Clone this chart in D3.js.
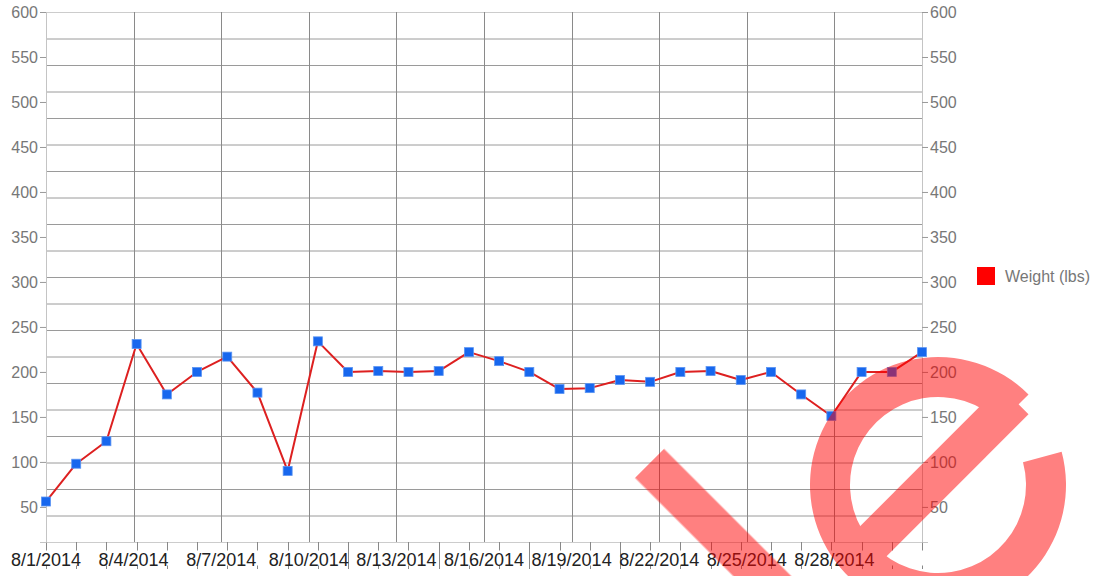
<!DOCTYPE html>
<html>
<head>
<meta charset="utf-8">
<script src="https://cdn.jsdelivr.net/npm/d3@7"></script>
<style>
body { margin: 0; background: #fff; }
text { font-family: "Liberation Sans", Arial, sans-serif; }
</style>
</head>
<body>
<div id="chart"></div>
<script>
// weigh-in times (one entry a day, clock drifting a little later each day)
var dates = [
  "2014-08-01 00:00", "2014-08-02 00:50", "2014-08-03 01:39", "2014-08-04 02:29",
  "2014-08-05 03:19", "2014-08-06 04:08", "2014-08-07 04:58", "2014-08-08 05:48",
  "2014-08-09 06:37", "2014-08-10 07:27", "2014-08-11 08:17", "2014-08-12 09:06",
  "2014-08-13 09:56", "2014-08-14 10:46", "2014-08-15 11:35", "2014-08-16 12:25",
  "2014-08-17 13:15", "2014-08-18 14:04", "2014-08-19 14:54", "2014-08-20 15:44",
  "2014-08-21 16:33", "2014-08-22 17:23", "2014-08-23 18:13", "2014-08-24 19:02",
  "2014-08-25 19:52", "2014-08-26 20:42", "2014-08-27 21:31", "2014-08-28 22:21",
  "2014-08-29 23:11", "2014-08-31 00:00"
];
var weights = [
  56, 98, 123, 231, 175, 200, 217, 177, 90, 234,
  200, 201, 200, 201, 222, 212, 200, 181, 182, 191,
  189, 200, 201, 191, 200, 175, 151, 200, 200, 222
];
var yTicks = [50, 100, 150, 200, 250, 300, 350, 400, 450, 500, 550, 600];
var seriesName = "Weight (lbs)";
var xStart = "2014-08-01 00:00", xEnd = "2014-08-31 00:00";
var yMin = 11, yMax = 600;

// set the dimensions and margins of the graph
var margin = { top: 12, left: 46 },
  width = 876,
  height = 530;

var parse = d3.timeParse("%Y-%m-%d %H:%M");
var fmt = d3.timeFormat("%-m/%-d/%Y");
var data = dates.map(function (d, i) { return { date: parse(d), value: weights[i] }; });

var x = d3.scaleTime().domain([parse(xStart), parse(xEnd)]).range([0, width]);
var y = d3.scaleLinear().domain([yMin, yMax]).range([height, 0]);
// the horizontal grid splits the plot into 20 even bands
var gridY = d3.scaleLinear().domain([0, 20]).range([height, 0]);

var svg = d3.select("#chart").append("svg")
  .attr("width", 1101)
  .attr("height", 576);

var g = svg.append("g")
  .attr("transform", "translate(" + margin.left + "," + margin.top + ")");

// horizontal grid
g.selectAll(".hgrid")
  .data(gridY.ticks(20))
  .enter().append("line")
  .attr("x1", 0).attr("x2", width)
  .attr("y1", function (d) { return gridY(d) + 0.5; })
  .attr("y2", function (d) { return gridY(d) + 0.5; })
  .attr("stroke", function (d) { return (d == 0 || d == 20) ? "#cccccc" : "#9a9a9a"; })
  .attr("stroke-width", 1);

// vertical grid every 3 days
var majors = x.ticks(d3.timeDay.every(3));
g.selectAll(".vgrid")
  .data(majors)
  .enter().append("line")
  .attr("x1", function (d) { return Math.round(x(d)) + 0.5; })
  .attr("x2", function (d) { return Math.round(x(d)) + 0.5; })
  .attr("y1", 0).attr("y2", height)
  .attr("stroke", function (d, i) { return (i == 0 || i == majors.length - 1) ? "#c4c4c4" : "#8a8a8a"; })
  .attr("stroke-width", 1);

// small ticks under each point
g.selectAll(".ptick")
  .data(data)
  .enter().append("line")
  .attr("x1", function (d) { return Math.round(x(d.date)) + 0.5; })
  .attr("x2", function (d) { return Math.round(x(d.date)) + 0.5; })
  .attr("y1", height).attr("y2", height + 27)
  .attr("stroke", "#888")
  .attr("stroke-width", 1);

// x labels (white box behind hides the middle of the ticks)
var xl = g.selectAll(".xlab")
  .data(majors)
  .enter().append("g")
  .attr("transform", function (d) { return "translate(" + x(d) + "," + (height + 23.5) + ")"; });
xl.append("rect")
  .attr("x", -38).attr("y", -15)
  .attr("width", 76).attr("height", 15)
  .attr("fill", "#fff");
xl.filter(function (d, i) { return i < majors.length - 1; })
  .append("text")
  .attr("text-anchor", "middle")
  .attr("fill", "#222")
  .style("font-size", "18px")
  .text(function (d) { return fmt(d); });

// left axis
var left = g.append("g")
  .call(d3.axisLeft(y).tickValues(yTicks).tickSize(6).tickPadding(2));
left.select(".domain").attr("stroke", "#c4c4c4");
left.selectAll(".tick line").attr("stroke", "#999");
left.selectAll(".tick text").attr("fill", "#777").style("font-size", "16px").style("font-family", "Liberation Sans, Arial, sans-serif");

// right axis
var right = g.append("g")
  .attr("transform", "translate(" + width + ",0)")
  .call(d3.axisRight(y).tickValues(yTicks).tickSize(6).tickPadding(2));
right.select(".domain").attr("stroke", "#c4c4c4");
right.selectAll(".tick line").attr("stroke", "#999");
right.selectAll(".tick text").attr("fill", "#777").style("font-size", "16px").style("font-family", "Liberation Sans, Arial, sans-serif");

// the line
var line = d3.line()
  .x(function (d) { return x(d.date); })
  .y(function (d) { return y(d.value); });

g.append("path")
  .datum(data)
  .attr("fill", "none")
  .attr("stroke", "#dd2020")
  .attr("stroke-width", 2)
  .attr("stroke-linejoin", "round")
  .attr("d", line);

// square markers
g.selectAll(".pt")
  .data(data)
  .enter().append("rect")
  .attr("x", function (d) { return x(d.date) - 4.5; })
  .attr("y", function (d) { return y(d.value) - 4.5; })
  .attr("width", 9).attr("height", 9)
  .attr("fill", "#1767ee")
  .attr("stroke", "#5b95f3")
  .attr("stroke-width", 0.8);

// legend
var legend = svg.append("g").attr("transform", "translate(977,267)");
legend.append("rect").attr("width", 18).attr("height", 18).attr("fill", "#ff0000");
legend.append("text")
  .attr("x", 28).attr("y", 14.5)
  .attr("fill", "#777")
  .style("font-size", "16px")
  .text(seriesName);

// stamp over the lower right corner
var stamp = svg.append("g").attr("opacity", 0.5).attr("fill", "#ff0000");
stamp.append("rect")
  .attr("transform", "translate(649.5,463.3) rotate(45)")
  .attr("x", 0).attr("y", -20.5)
  .attr("width", 260).attr("height", 41);
var eg = stamp.append("g").attr("transform", "translate(938,485)");
eg.append("path")
  .attr("d", d3.arc()({ innerRadius: 88, outerRadius: 128, startAngle: 75 * Math.PI / 180, endAngle: 405 * Math.PI / 180 }));
eg.append("rect")
  .attr("transform", "rotate(-45)")
  .attr("x", -92).attr("y", -26)
  .attr("width", 206).attr("height", 40);
</script>
</body>
</html>
